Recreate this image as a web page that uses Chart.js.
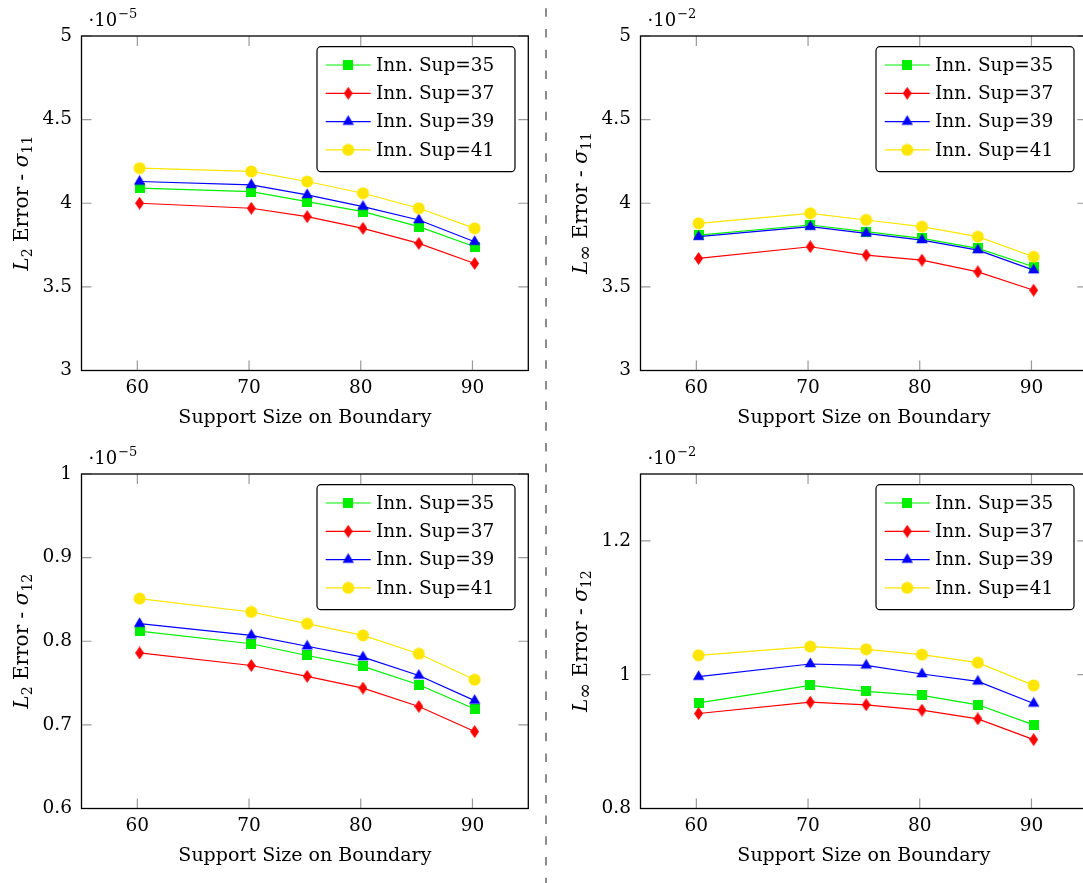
<!DOCTYPE html>
<html>
<head>
<meta charset="utf-8">
<title>Error vs. support size on boundary</title>
<script src="https://cdn.jsdelivr.net/npm/chart.js@4.4.1/dist/chart.umd.min.js"></script>
<style>
  html, body { margin: 0; padding: 0; background: #fff; }
  body { position: relative; width: 1083px; height: 883px; overflow: hidden; }
  canvas { position: absolute; }
</style>
</head>
<body>
<canvas id="divider" width="12" height="883" style="left:540px;top:0"></canvas>
<canvas id="panelL2S11" width="545" height="440" style="left:0;top:0"></canvas>
<canvas id="panelLInfS11" width="545" height="440" style="left:559px;top:0"></canvas>
<canvas id="panelL2S12" width="545" height="440" style="left:0;top:438px"></canvas>
<canvas id="panelLInfS12" width="545" height="440" style="left:559px;top:438px"></canvas>
<script>
// ---- shared x data ----
const xValues = [60.2, 70.2, 75.2, 80.2, 85.2, 90.2];
const xTicks = [60, 70, 80, 90];
const xRange = [55, 95];
const seriesLabels = ['Inn. Sup=35', 'Inn. Sup=37', 'Inn. Sup=39', 'Inn. Sup=41'];

// ---- L2 error, sigma_11 (scaled by 1e-5) ----
const l2S11Sup35 = [4.09, 4.07, 4.01, 3.95, 3.86, 3.74];
const l2S11Sup37 = [4.00, 3.97, 3.92, 3.85, 3.76, 3.64];
const l2S11Sup39 = [4.13, 4.11, 4.05, 3.98, 3.90, 3.77];
const l2S11Sup41 = [4.21, 4.19, 4.13, 4.06, 3.97, 3.85];
const l2S11Ticks = [3, 3.5, 4, 4.5, 5];

// ---- L-infinity error, sigma_11 (scaled by 1e-2) ----
const lInfS11Sup35 = [3.81, 3.87, 3.83, 3.79, 3.73, 3.62];
const lInfS11Sup37 = [3.67, 3.74, 3.69, 3.66, 3.59, 3.48];
const lInfS11Sup39 = [3.80, 3.86, 3.82, 3.78, 3.72, 3.60];
const lInfS11Sup41 = [3.88, 3.94, 3.90, 3.86, 3.80, 3.68];
const lInfS11Ticks = [3, 3.5, 4, 4.5, 5];

// ---- L2 error, sigma_12 (scaled by 1e-5) ----
const l2S12Sup35 = [0.812, 0.797, 0.783, 0.770, 0.748, 0.719];
const l2S12Sup37 = [0.786, 0.771, 0.758, 0.744, 0.722, 0.692];
const l2S12Sup39 = [0.821, 0.807, 0.794, 0.781, 0.759, 0.729];
const l2S12Sup41 = [0.851, 0.835, 0.821, 0.807, 0.785, 0.754];
const l2S12Ticks = [0.6, 0.7, 0.8, 0.9, 1];

// ---- L-infinity error, sigma_12 (scaled by 1e-2) ----
const lInfS12Sup35 = [0.958, 0.984, 0.975, 0.969, 0.955, 0.925];
const lInfS12Sup37 = [0.942, 0.959, 0.955, 0.947, 0.934, 0.903];
const lInfS12Sup39 = [0.997, 1.016, 1.014, 1.001, 0.990, 0.957];
const lInfS12Sup41 = [1.029, 1.042, 1.038, 1.030, 1.018, 0.984];
const lInfS12Ticks = [0.8, 1, 1.2];

const FONT = 'DejaVu Serif';
const COLORS = ['#00f000', '#ff0000', '#0000ff', '#ffe600'];

// ---- marker images (square, diamond, triangle, circle) ----
function markerCanvas(w, h, color, shape) {
  const c = document.createElement('canvas');
  c.width = w; c.height = h;
  const g = c.getContext('2d');
  g.fillStyle = color;
  g.beginPath();
  shape(g, w, h);
  g.fill();
  return c;
}
const MARKERS = [
  markerCanvas(10, 10, COLORS[0], (g, w, h) => g.rect(0, 0, w, h)),
  markerCanvas(9, 13, COLORS[1], (g, w, h) => {
    g.moveTo(w / 2, 0); g.lineTo(w, h / 2); g.lineTo(w / 2, h); g.lineTo(0, h / 2); g.closePath();
  }),
  markerCanvas(13, 14, COLORS[2], (g, w, h) => {
    const cx = w / 2, cy = h / 2, r = 6.6;
    g.moveTo(cx, cy - r); g.lineTo(cx + r * 0.866, cy + r / 2); g.lineTo(cx - r * 0.866, cy + r / 2); g.closePath();
  }),
  markerCanvas(13, 13, COLORS[3], (g, w, h) => g.arc(w / 2, h / 2, 6, 0, Math.PI * 2))
];

// ---- frame, inner ticks, legend, exponent and rotated axis title ----
const TICK_LEN = 10;
function roundRectPath(ctx, x, y, w, h, r) {
  ctx.beginPath();
  ctx.moveTo(x + r, y);
  ctx.lineTo(x + w - r, y); ctx.arcTo(x + w, y, x + w, y + r, r);
  ctx.lineTo(x + w, y + h - r); ctx.arcTo(x + w, y + h, x + w - r, y + h, r);
  ctx.lineTo(x + r, y + h); ctx.arcTo(x, y + h, x, y + h - r, r);
  ctx.lineTo(x, y + r); ctx.arcTo(x, y, x + r, y, r);
  ctx.closePath();
}

const panelDecor = {
  id: 'panelDecor',
  beforeDatasetsDraw(chart, args, o) {
    const {ctx, chartArea: a, scales: {x, y}} = chart;
    ctx.save();
    ctx.strokeStyle = '#9a9a9a';
    ctx.lineWidth = 1.2;
    ctx.beginPath();
    o.xTicks.forEach(v => {
      const px = x.getPixelForValue(v);
      ctx.moveTo(px, a.bottom); ctx.lineTo(px, a.bottom - TICK_LEN);
      ctx.moveTo(px, a.top); ctx.lineTo(px, a.top + TICK_LEN);
    });
    o.yTicks.forEach(v => {
      const py = y.getPixelForValue(v);
      ctx.moveTo(a.left, py); ctx.lineTo(a.left + TICK_LEN, py);
      ctx.moveTo(a.right, py); ctx.lineTo(a.right - TICK_LEN, py);
    });
    ctx.stroke();
    ctx.strokeStyle = '#000';
    ctx.lineWidth = 1.3;
    ctx.strokeRect(a.left, a.top, a.right - a.left, a.bottom - a.top);
    ctx.restore();
  },
  afterDatasetsDraw(chart) {
    const {ctx, chartArea: a} = chart;
    const bw = 198, bh = 125;
    const bx = a.right - 13.3 - bw, by = a.top + 10.7;
    ctx.save();
    roundRectPath(ctx, bx, by, bw, bh, 4);
    ctx.fillStyle = '#fff';
    ctx.fill();
    ctx.strokeStyle = '#000';
    ctx.lineWidth = 1.2;
    ctx.stroke();
    ctx.font = '18.5px "' + FONT + '"';
    ctx.textBaseline = 'middle';
    ctx.textAlign = 'left';
    chart.data.datasets.forEach((ds, i) => {
      const cy = by + 18.3 + i * 28.3;
      ctx.strokeStyle = ds.borderColor;
      ctx.lineWidth = 1.2;
      ctx.beginPath();
      ctx.moveTo(bx + 8.7, cy); ctx.lineTo(bx + 53.7, cy);
      ctx.stroke();
      const m = ds.pointStyle;
      ctx.drawImage(m, bx + 31.2 - m.width / 2, cy - m.height / 2);
      ctx.fillStyle = '#000';
      ctx.fillText(ds.label, bx + 59, cy + 1);
    });
    ctx.restore();
  },
  afterDraw(chart, args, o) {
    const {ctx, chartArea: a} = chart;
    ctx.save();
    ctx.fillStyle = '#000';
    ctx.textBaseline = 'alphabetic';
    ctx.textAlign = 'left';
    // scale factor above the y axis
    ctx.font = '18px "' + FONT + '"';
    const base = '\u00b710';
    const ex = a.left + 7, ey = a.top - 10;
    ctx.fillText(base, ex, ey);
    const bwid = ctx.measureText(base).width;
    ctx.font = '13px "' + FONT + '"';
    ctx.fillText(o.exponent, ex + bwid + 1, ey - 8);
    // rotated y-axis title with subscripts
    const subSize = o.norm === '\u221e' ? 19 : 14;
    const parts = [
      {t: 'L', f: 'italic 20px "' + FONT + '"', dy: 0},
      {t: o.norm, f: subSize + 'px "' + FONT + '"', dy: 4},
      {t: ' Error - ', f: '20px "' + FONT + '"', dy: 0},
      {t: '\u03c3', f: 'italic 20px "' + FONT + '"', dy: 0},
      {t: o.component, f: '14px "' + FONT + '"', dy: 4}
    ];
    let total = 0;
    parts.forEach(p => { ctx.font = p.f; p.w = ctx.measureText(p.t).width; total += p.w; });
    ctx.translate(28, (a.top + a.bottom) / 2);
    ctx.rotate(-Math.PI / 2);
    let tx = -total / 2;
    parts.forEach(p => { ctx.font = p.f; ctx.fillText(p.t, tx, p.dy); tx += p.w; });
    ctx.restore();
  }
};

function makePanel(id, series, yTicks, yMin, yMax, exponent, norm, component) {
  const datasets = series.map((vals, i) => ({
    label: seriesLabels[i],
    data: xValues.map((xv, k) => ({x: xv, y: vals[k]})),
    borderColor: COLORS[i],
    backgroundColor: COLORS[i],
    borderWidth: 1.2,
    tension: 0,
    fill: false,
    pointStyle: MARKERS[i],
    pointRadius: 6,
    pointHoverRadius: 6,
    order: series.length - 1 - i
  }));
  return new Chart(document.getElementById(id), {
    type: 'line',
    data: {datasets},
    plugins: [panelDecor],
    options: {
      responsive: false,
      animation: false,
      devicePixelRatio: 1,
      events: [],
      layout: {padding: {top: 36, right: 16.7, left: 0, bottom: 0}},
      plugins: {
        legend: {display: false},
        tooltip: {enabled: false},
        panelDecor: {xTicks, yTicks, exponent, norm, component}
      },
      scales: {
        x: {
          type: 'linear',
          min: xRange[0],
          max: xRange[1],
          grid: {display: false, drawTicks: false, tickLength: 0},
          border: {display: false},
          afterBuildTicks: s => { s.ticks = xTicks.map(v => ({value: v})); },
          afterFit: s => { s.height = 69.5; },
          ticks: {
            color: '#000',
            padding: 6.5,
            font: {family: FONT, size: 18.5},
            callback: v => String(v)
          },
          title: {
            display: true,
            text: 'Support Size on Boundary',
            color: '#000',
            font: {family: FONT, size: 19},
            padding: {top: 0, bottom: 11}
          }
        },
        y: {
          type: 'linear',
          min: yMin,
          max: yMax,
          grid: {display: false, drawTicks: false, tickLength: 0},
          border: {display: false},
          afterBuildTicks: s => { s.ticks = yTicks.map(v => ({value: v})); },
          afterFit: s => { s.width = 81.5; },
          ticks: {
            color: '#000',
            padding: 9.5,
            font: {family: FONT, size: 18.5},
            callback: v => String(v)
          }
        }
      }
    }
  });
}

makePanel('panelL2S11', [l2S11Sup35, l2S11Sup37, l2S11Sup39, l2S11Sup41],
  l2S11Ticks, 3, 5, '\u22125', '2', '11');
makePanel('panelLInfS11', [lInfS11Sup35, lInfS11Sup37, lInfS11Sup39, lInfS11Sup41],
  lInfS11Ticks, 3, 5, '\u22122', '\u221e', '11');
makePanel('panelL2S12', [l2S12Sup35, l2S12Sup37, l2S12Sup39, l2S12Sup41],
  l2S12Ticks, 0.6, 1, '\u22125', '2', '12');
makePanel('panelLInfS12', [lInfS12Sup35, lInfS12Sup37, lInfS12Sup39, lInfS12Sup41],
  lInfS12Ticks, 0.8, 1.3, '\u22122', '\u221e', '12');

// dashed separator between the two columns
(function () {
  const d = document.getElementById('divider').getContext('2d');
  d.strokeStyle = '#707070';
  d.lineWidth = 1.6;
  d.setLineDash([8.5, 12.2]);
  d.lineDashOffset = 12.4;
  d.beginPath();
  d.moveTo(6, 0);
  d.lineTo(6, 883);
  d.stroke();
})();
</script>
</body>
</html>
